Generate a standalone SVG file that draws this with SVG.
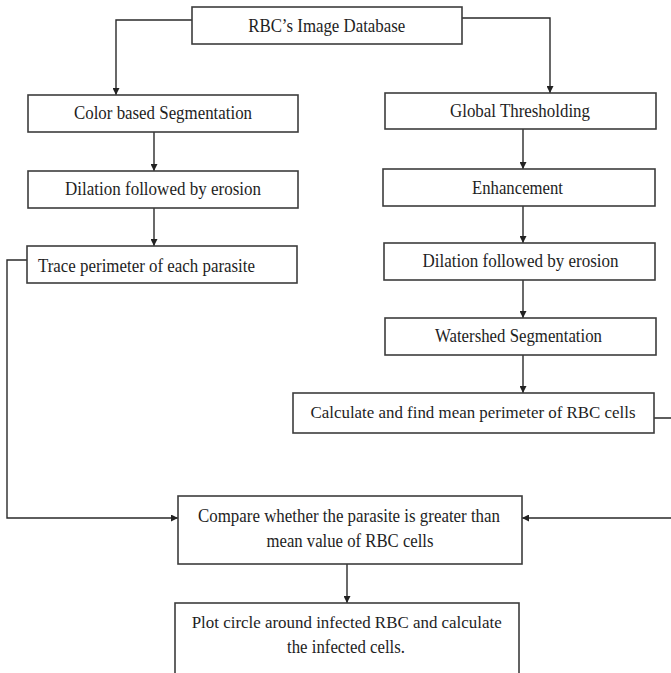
<svg xmlns="http://www.w3.org/2000/svg" width="671" height="673" viewBox="0 0 671 673">
  <defs>
    <marker id="arr" viewBox="0 0 10 10" refX="10" refY="5" markerWidth="8" markerHeight="7" markerUnits="userSpaceOnUse" orient="auto">
      <path d="M0,0 L10,5 L0,10 z" fill="#222"/>
    </marker>
    <style>
      rect.box { fill: #fff; stroke: #3d3d3d; stroke-width: 1.6; }
      text { font-family: "Liberation Serif", "Times New Roman", serif; font-size: 19px; fill: #1e1e1e; }
      text.s { font-size: 17px; }
      .c { text-anchor: middle; }
      .conn path { fill: none; stroke: #2a2a2a; stroke-width: 1.4; marker-end: url(#arr); }
    </style>
  </defs>
  <rect width="671" height="673" fill="#fff"/>

  <g class="conn" id="connectors">
    <path d="M192,20 H116 V95"/>
    <path d="M462,18 H550 V93"/>
    <path d="M154,132 V171"/>
    <path d="M154,208 V246"/>
    <path d="M523,129 V169"/>
    <path d="M523,206 V243"/>
    <path d="M523,280 V318"/>
    <path d="M523,355 V393"/>
    <path d="M27,260 H7 V518 H178"/>
    <path d="M654,418 H690 V518 H522"/>
    <path d="M347,564 V603"/>
  </g>

  <g id="rbc-db">
    <rect class="box" x="192" y="7" width="270" height="37"/>
    <text class="c" x="326.7" y="32" textLength="157" lengthAdjust="spacingAndGlyphs">RBC’s Image Database</text>
  </g>
  <g id="color-seg">
    <rect class="box" x="28" y="95" width="270" height="37"/>
    <text class="c" x="163" y="119" textLength="178" lengthAdjust="spacingAndGlyphs">Color based Segmentation</text>
  </g>
  <g id="dilation-left">
    <rect class="box" x="28" y="171" width="270" height="37"/>
    <text class="c" x="163" y="195" textLength="196" lengthAdjust="spacingAndGlyphs">Dilation followed by erosion</text>
  </g>
  <g id="trace">
    <rect class="box" x="27" y="246" width="270" height="37"/>
    <text x="38" y="272" textLength="217" lengthAdjust="spacingAndGlyphs">Trace perimeter of each parasite</text>
  </g>
  <g id="global-thresh">
    <rect class="box" x="385" y="93" width="271" height="36"/>
    <text class="c" x="520" y="117" textLength="140" lengthAdjust="spacingAndGlyphs">Global Thresholding</text>
  </g>
  <g id="enhancement">
    <rect class="box" x="383" y="169" width="272" height="37"/>
    <text class="c" x="517.5" y="194" textLength="91" lengthAdjust="spacingAndGlyphs">Enhancement</text>
  </g>
  <g id="dilation-right">
    <rect class="box" x="384" y="243" width="271" height="37"/>
    <text class="c" x="520.5" y="267" textLength="196" lengthAdjust="spacingAndGlyphs">Dilation followed by erosion</text>
  </g>
  <g id="watershed">
    <rect class="box" x="385" y="318" width="271" height="37"/>
    <text class="c" x="518.5" y="342" textLength="167" lengthAdjust="spacingAndGlyphs">Watershed Segmentation</text>
  </g>
  <g id="mean-perimeter">
    <rect class="box" x="293" y="393" width="361" height="40"/>
    <text class="c s" x="473" y="418" textLength="325" lengthAdjust="spacingAndGlyphs">Calculate and find mean perimeter of RBC cells</text>
  </g>
  <g id="compare">
    <rect class="box" x="178" y="496" width="344" height="68"/>
    <text class="c" x="349" y="522" textLength="302" lengthAdjust="spacingAndGlyphs">Compare whether the parasite is greater than</text>
    <text class="c" x="350" y="547" textLength="167" lengthAdjust="spacingAndGlyphs">mean value of RBC cells</text>
  </g>
  <g id="plot">
    <rect class="box" x="175" y="603" width="344" height="90"/>
    <text class="c s" x="346.7" y="628" textLength="310" lengthAdjust="spacingAndGlyphs">Plot circle around infected RBC and calculate</text>
    <text class="c" x="346" y="653" textLength="118" lengthAdjust="spacingAndGlyphs">the infected cells.</text>
  </g>
</svg>
